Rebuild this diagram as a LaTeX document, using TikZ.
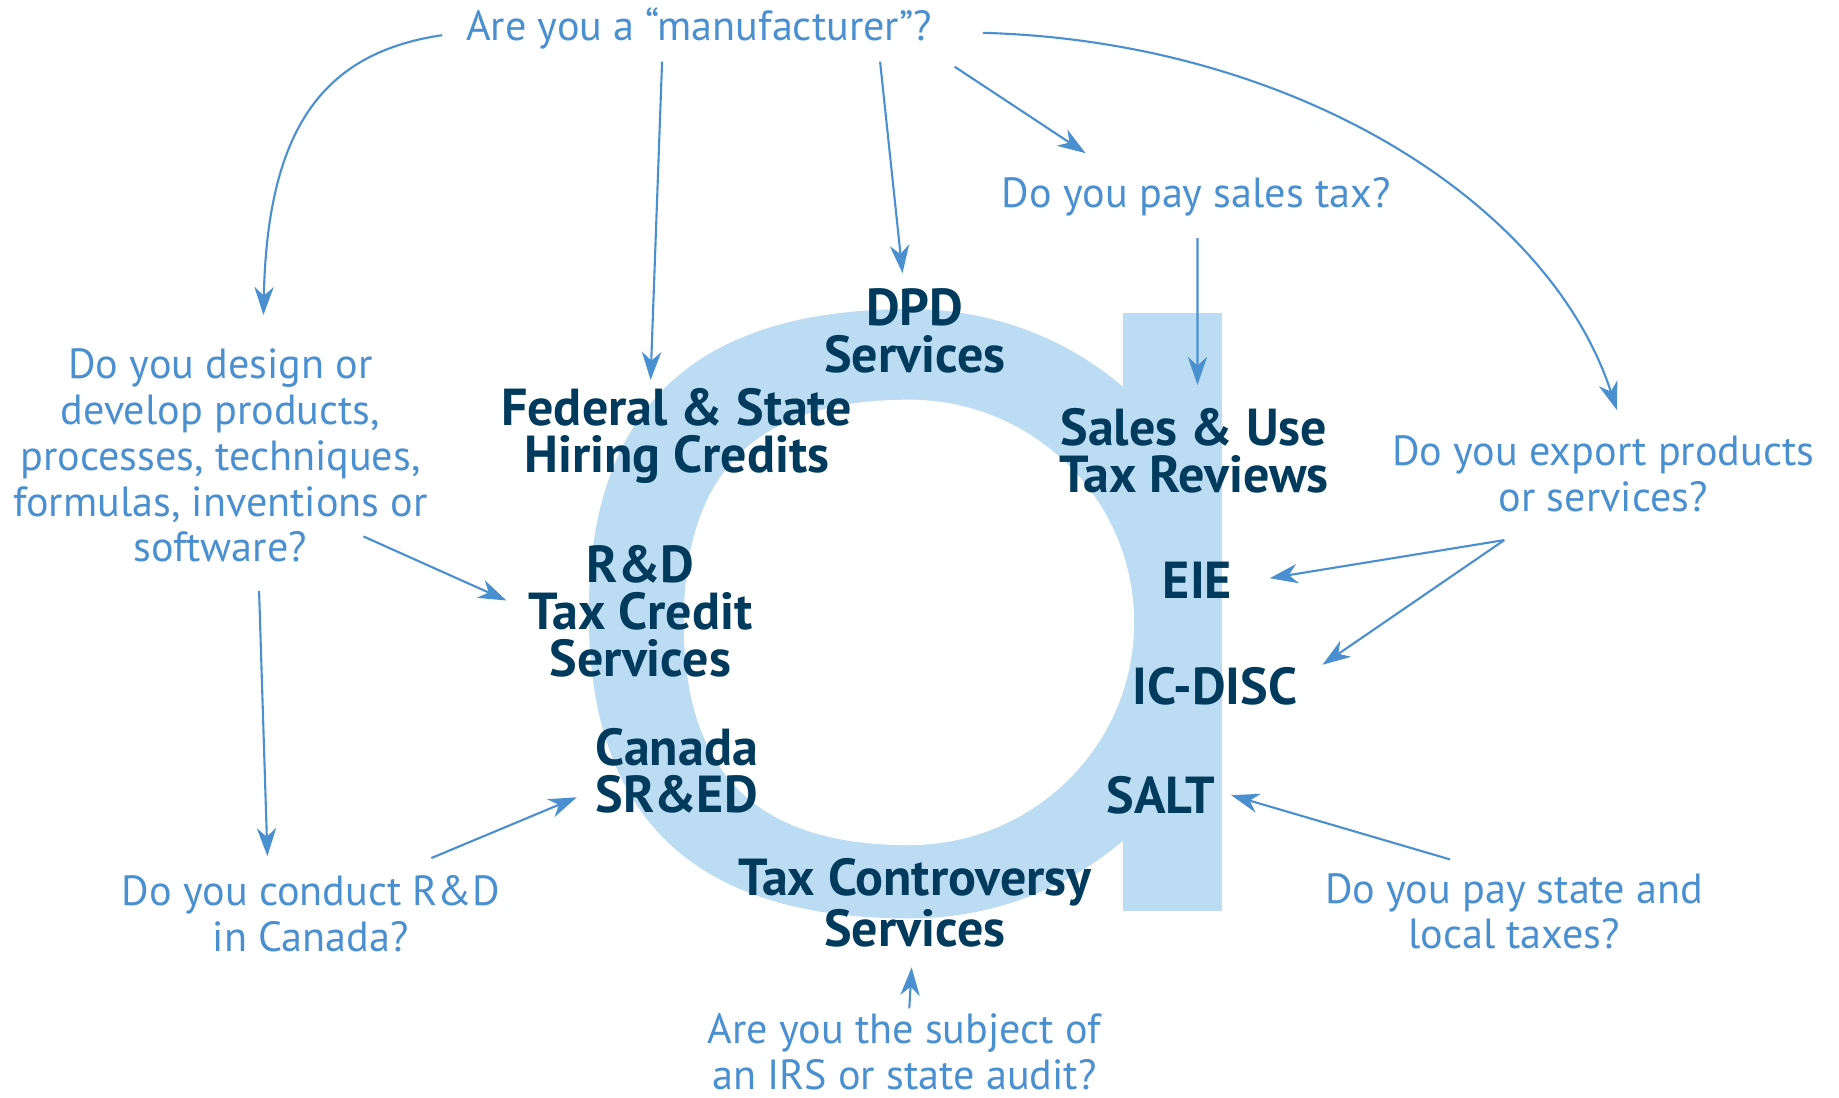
\documentclass[tikz,border=0pt]{standalone}
\usepackage{fontspec}
\setmainfont{PT Sans}
\usetikzlibrary{calc,arrows.meta}

\definecolor{ringblue}{RGB}{187,220,242}
\definecolor{askblue}{RGB}{74,144,208}
\definecolor{svcnavy}{RGB}{0,58,92}

\newcommand{\askfont}{\fontsize{12}{13}\selectfont}
\newcommand{\svcfont}{\bfseries\fontsize{14.8}{13.4}\selectfont}

\tikzset{
  question/.style={text=askblue, align=center, font=\askfont, inner sep=0pt},
  service/.style={text=svcnavy, align=center, font=\svcfont, inner sep=0pt},
  ask/.style={askblue, line width=0.6pt, -{Stealth[length=8pt,width=5.5pt,inset=2.5pt]}},
}

\begin{document}
\begin{tikzpicture}[x=1.1728mm, y=-1.1728mm]
    \useasboundingbox (0,0) rectangle (156.8,93.6);

    % draw ring and stem
    \begin{scope}
      \clip (0,0) rectangle (104.17,93.6);
      \fill[ringblue] (50.2,52.33) .. controls (50.2,35.0) and (59.0,26.35) .. (77.6,26.35)
        .. controls (92.62,26.35) and (104.8,37.98) .. (104.8,52.33)
        .. controls (104.8,66.68) and (92.62,78.31) .. (77.6,78.31)
        .. controls (59.0,78.31) and (50.2,69.6) .. cycle;
    \end{scope}
    \fill[ringblue] (95.78,26.72) rectangle (104.17,77.7);
    \fill[white] (58.3,53.07) .. controls (58.3,40.2) and (64.5,34.08) .. (77.5,34.08)
        .. controls (88.1,34.08) and (96.7,42.58) .. (96.7,53.07)
        .. controls (96.7,63.56) and (88.1,72.06) .. (77.5,72.06)
        .. controls (64.5,72.06) and (58.3,65.9) .. cycle;

    % services
    \node[service] (dpd) at (78.0,28.2) {DPD\\Services};
    \node[service] (hiring) at (57.7,37.2) {Federal \& State\\Hiring Credits};
    \node[service] (sales) at (101.8,38.4) {Sales \& Use\\Tax Reviews};
    \node[service] (rnd) at (54.6,52.1) {R\&D\\Tax Credit\\Services};
    \node[service] (eie) at (102.1,49.5) {EIE};
    \node[service] (icdisc) at (103.6,58.5) {IC-DISC};
    \node[service] (sred) at (57.7,65.7) {Canada\\SR\&ED};
    \node[service] (salt) at (99.0,67.8) {SALT};
    \node[service] (controversy) at (78.0,77.0) {Tax Controversy\\Services};

    % questions
    \node[question] (manuf) at (59.6,2.4) {Are you a “manufacturer”?};
    \node[question] (salestax) at (102.0,16.8) {Do you pay sales tax?};
    \node[question] (design) at (18.8,38.85) {Do you design or\\develop products,\\processes, techniques,\\formulas, inventions or\\software?};
    \node[question] (export) at (136.7,40.4) {Do you export products\\or services?};
    \node[question] (canada) at (26.5,77.9) {Do you conduct R\&D\\in Canada?};
    \node[question] (audit) at (77.1,89.7) {Are you the subject of\\an IRS or state audit?};
    \node[question] (localtax) at (129.1,77.7) {Do you pay state and\\local taxes?};

    % draw arrows
    \draw[ask] ($(manuf)+(-21.9,0.6)$) .. controls (27.5,4.5) and (22.8,11.0) .. ($(design)+(3.66,-11.99)$);
    \draw[ask] ($(manuf)+(-3.15,2.86)$) -- ($(hiring)+(-2.23,-4.8)$);
    \draw[ask] ($(manuf)+(15.44,2.86)$) -- ($(dpd)+(-1.05,-4.9)$);
    \draw[ask] ($(manuf)+(21.8,3.29)$) -- ($(salestax)+(-9.44,-3.74)$);
    \draw[ask] ($(manuf)+(24.2,0.4)$) .. controls (110.0,3.5) and (132.0,17.0) .. ($(export)+(1.16,-5.44)$);
    \draw[ask] ($(salestax)+(0.1,3.5)$) -- ($(sales)+(0.3,-5.58)$);
    \draw[ask] ($(design)+(12.19,6.89)$) -- ($(rnd)+(-11.42,-0.9)$);
    \draw[ask] ($(design)+(3.29,11.53)$) -- ($(canada)+(-3.7,-4.9)$);
    \draw[ask] ($(canada)+(10.28,-4.74)$) -- ($(sred)+(-8.52,2.28)$);
    \draw[ask] ($(export)+(-8.44,5.65)$) -- ($(eie)+(6.16,-0.2)$);
    \draw[ask] ($(export)+(-8.44,5.65)$) -- ($(icdisc)+(9.16,-1.82)$);
    \draw[ask] ($(localtax)+(-5.46,-4.42)$) -- ($(salt)+(5.97,0)$);
    \draw[ask] ($(audit)+(0.43,-3.72)$) -- ($(controversy)+(-0.27,5.48)$);
\end{tikzpicture}
\end{document}
